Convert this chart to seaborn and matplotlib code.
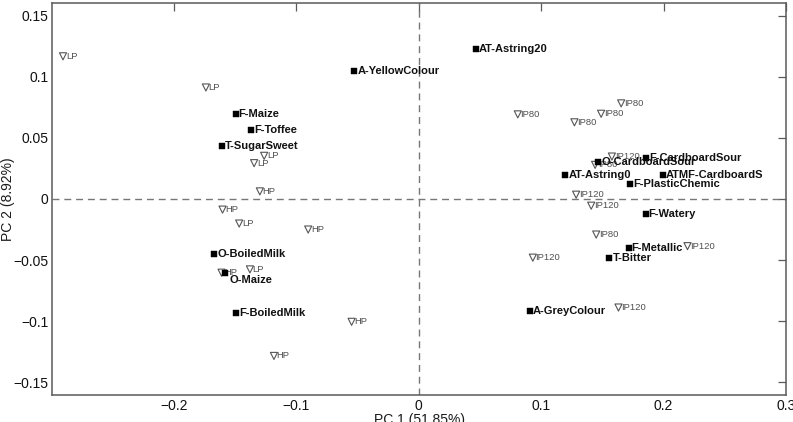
import matplotlib
matplotlib.use("Agg")
import matplotlib.pyplot as plt
import seaborn as sns
import pandas as pd

# ---- data ----
sample_labels = ["LP"] * 6 + ["HP"] * 6 + ["IP80"] * 6 + ["IP120"] * 6
sample_pc1 = [-0.2908, -0.1740, -0.1346, -0.1264, -0.1468, -0.1380,
              -0.1299, -0.1604, -0.0904, -0.1612, -0.0549, -0.1184,
              0.0809, 0.1272, 0.1490, 0.1654, 0.1441, 0.1450,
              0.1578, 0.1286, 0.1409, 0.2196, 0.0932, 0.1632]
sample_pc2 = [0.1167, 0.0912, 0.0293, 0.0353, -0.0201, -0.0576,
              0.0062, -0.0087, -0.0250, -0.0603, -0.1005, -0.1284,
              0.0692, 0.0627, 0.0697, 0.0782, 0.0279, -0.0291,
              0.0347, 0.0035, -0.0055, -0.0386, -0.0480, -0.0888]

attr_labels = ["AT-Astring20", "A-YellowColour", "F-Maize", "F-Toffee", "T-SugarSweet",
               "O-BoiledMilk", "O-Maize", "F-BoiledMilk", "AT-Astring0", "O-CardboardSour",
               "F-CardboardSour", "ATMF-CardboardS", "F-PlasticChemic", "F-Watery",
               "F-Metallic", "T-Bitter", "A-GreyColour"]
attr_pc1 = [0.0465, -0.0528, -0.1498, -0.1370, -0.1610,
            -0.1673, -0.1580, -0.1495, 0.1198, 0.1466,
            0.1858, 0.1995, 0.1725, 0.1853,
            0.1714, 0.1558, 0.0910]
attr_pc2 = [0.1224, 0.1047, 0.0695, 0.0564, 0.0434,
            -0.0454, -0.0603, -0.0934, 0.0198, 0.0306,
            0.0339, 0.0198, 0.0125, -0.0125,
            -0.0405, -0.0486, -0.0920]

x_ticks = [-0.2, -0.1, 0, 0.1, 0.2, 0.3]
x_ticklabels = ["\u22120.2", "\u22120.1", "0", "0.1", "0.2", "0.3"]
y_ticks = [-0.15, -0.1, -0.05, 0, 0.05, 0.1, 0.15]
y_ticklabels = ["\u22120.15", "\u22120.1", "\u22120.05", "0", "0.05", "0.1", "0.15"]
x_title = "PC 1 (51.85%)"
y_title = "PC 2 (8.92%)"

samples = pd.DataFrame({"pc1": sample_pc1, "pc2": sample_pc2, "label": sample_labels})
attrs = pd.DataFrame({"pc1": attr_pc1, "pc2": attr_pc2, "label": attr_labels})

# ---- style ----
sns.set_style("white")
plt.rcParams["font.family"] = ["Liberation Sans", "DejaVu Sans"]

fig = plt.figure(figsize=(7.93, 4.22), dpi=100)
ax = fig.add_axes([0.066, 0.065, 0.925, 0.927])

spine_col = "#5a5a5a"
ax.axvline(0, color="#777777", lw=1.0, ls=(0, (5, 3.5)), zorder=1)
ax.axhline(0, color="#777777", lw=1.0, ls=(0, (5, 3.5)), zorder=1)

sns.scatterplot(data=samples, x="pc1", y="pc2", marker="v", s=26,
                facecolors="none", edgecolors="#555555", linewidths=0.8,
                ax=ax, zorder=2, legend=False)
for _, r in samples.iterrows():
    ax.annotate(r["label"], (r["pc1"], r["pc2"]), xytext=(2.0, 0),
                textcoords="offset points", ha="left", va="center",
                fontsize=6.8, color="#505050", zorder=3)

sns.scatterplot(data=attrs, x="pc1", y="pc2", marker="s", s=20,
                color="black", edgecolor="black", linewidth=0.3,
                ax=ax, zorder=4, legend=False)
special_offsets = {"O-Maize": (3.0, -5.5)}
for _, r in attrs.iterrows():
    off = special_offsets.get(r["label"], (2.2, 0))
    ax.annotate(r["label"], (r["pc1"], r["pc2"]), xytext=off,
                textcoords="offset points", ha="left", va="center",
                fontsize=8, fontweight="bold", color="#111111", zorder=5)

ax.set_xlim(-0.2995, 0.3)
ax.set_ylim(-0.16, 0.16)
ax.set_xticks(x_ticks)
ax.set_xticklabels(x_ticklabels)
ax.set_yticks(y_ticks)
ax.set_yticklabels(y_ticklabels)
ax.tick_params(direction="in", length=6, width=0.9, color=spine_col,
               top=True, right=True, labelsize=10, labelcolor="#111111", pad=3)
for sp in ax.spines.values():
    sp.set_visible(True)
    sp.set_color(spine_col)
    sp.set_linewidth(1.1)

ax.set_xlabel(x_title, fontsize=10, color="#1a1a1a")
ax.set_ylabel(y_title, fontsize=10, color="#1a1a1a")
ax.xaxis.set_label_coords(0.5, -0.065)
ax.xaxis.label.set_va("center")
ax.yaxis.set_label_coords(-0.0604, 0.5)
ax.yaxis.label.set_va("center")

fig.savefig("out.png", dpi=100)
